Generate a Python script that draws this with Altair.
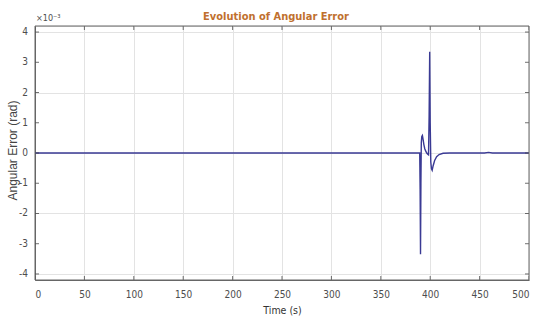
import altair as alt
import pandas as pd

# Angular error (in units of 1e-3 rad) vs time (s)
time_s = [0, 100, 200, 300, 388.8, 389.4, 389.8, 390.2, 390.6, 391.0, 391.5, 392.1,
          392.8, 393.6, 394.5, 395.5, 396.5, 397.5, 398.3, 398.9, 399.5, 400.0,
          400.6, 401.3, 402.0, 403.0, 404.5, 406.5, 409.0, 413.0, 420.0, 455.0,
          459.0, 463.0, 500.0]
error_e3 = [0, 0, 0, 0, 0, 0, -1.2, -3.35, -1.0, 0.35, 0.55, 0.58,
            0.45, 0.28, 0.14, 0.06, 0.0, -0.04, -0.06, 1.2, 3.35, 1.0,
            -0.3, -0.52, -0.57, -0.42, -0.25, -0.12, -0.05, -0.01, 0.0, 0.0,
            0.02, 0.0, 0.0]

x_ticks = [0, 50, 100, 150, 200, 250, 300, 350, 400, 450, 500]
y_ticks = [-4, -3, -2, -1, 0, 1, 2, 3, 4]
y_tick_labels = ["-4", "-3", "-2", "-1", "0", "1", "2", "3", "4"]
x_domain = [0, 500]
y_domain = [-4.2, 4.2]

df = pd.DataFrame({"t": time_s, "e": error_e3})
xt = pd.DataFrame({"t": x_ticks})
yt = pd.DataFrame({"e": y_ticks, "lab": y_tick_labels})

FONT = "Liberation Sans Narrow, DejaVu Sans Condensed, Liberation Sans, sans-serif"
LBL = "#4d4d4d"

xs = alt.Scale(domain=x_domain, nice=False, zero=False)
ys = alt.Scale(domain=y_domain, nice=False, zero=False)

x_axis = alt.Axis(values=x_ticks, format="d", grid=True, gridColor="#e3e3e3",
                  ticks=False, domainColor="#666666", labelPadding=9,
                  labelOverlap=False,
                  labelColor=LBL, labelFont=FONT, labelFontSize=10,
                  titleFont=FONT, titleFontSize=10.5, titleFontWeight="normal",
                  titleColor="#333333", titlePadding=6)
y_axis = alt.Axis(values=y_ticks, grid=True, gridColor="#e3e3e3",
                  ticks=False, labels=False, domainColor="#666666",
                  titleFont="Liberation Sans, Arial, sans-serif", titleFontSize=12,
                  titleFontWeight="normal", titleColor="#444444",
                  titleX=-23, titleY=124, titleAngle=-90,
                  titleAlign="center", titleBaseline="middle")

X = alt.X("t:Q", scale=xs, title="Time (s)", axis=x_axis)
Y = alt.Y("e:Q", scale=ys, title="Angular Error (rad)", axis=y_axis)

line = alt.Chart(df).mark_line(color="#3a3a94", strokeWidth=1.4, clip=True).encode(x=X, y=Y)

top_ticks = alt.Chart(xt).mark_tick(color="#333333", orient="vertical", size=8,
                                    thickness=1, clip=True).encode(x=X, y=alt.datum(4.2))
bot_ticks = alt.Chart(xt).mark_tick(color="#333333", orient="vertical", size=8,
                                    thickness=1, clip=True).encode(x=X, y=alt.datum(-4.2))
left_ticks = alt.Chart(yt).mark_tick(color="#333333", orient="horizontal", size=8,
                                     thickness=1, clip=True).encode(y=Y, x=alt.datum(0))
right_ticks = alt.Chart(yt).mark_tick(color="#333333", orient="horizontal", size=8,
                                      thickness=1, clip=True).encode(y=Y, x=alt.datum(500))

y_labels = alt.Chart(yt).mark_text(align="right", baseline="middle", font=FONT,
                                   fontSize=10, color=LBL, dx=-7).encode(
    y=Y, x=alt.datum(0), text="lab:N")

frame = alt.Chart(pd.DataFrame({"a": [0]})).mark_rect(
    fill=None, stroke="#666666", strokeWidth=1).encode(
    x=alt.value(0), x2=alt.value(494), y=alt.value(0), y2=alt.value(254))

exp_label = alt.Chart(pd.DataFrame({"s": ["×10⁻³"]})).mark_text(
    align="left", baseline="bottom", font=FONT, fontSize=9, color=LBL).encode(
    text="s:N", x=alt.value(1), y=alt.value(-3))

chart = alt.layer(line, top_ticks, bot_ticks, left_ticks, right_ticks, y_labels,
                  frame, exp_label).properties(
    width=494, height=254,
    title=alt.TitleParams("Evolution of Angular Error", color="#c0702e", font=FONT,
                          fontSize=11, fontWeight="bold", anchor="middle", offset=-8, dx=-6),
    autosize=alt.AutoSizeParams(type="none"),
    padding={"left": 35, "top": 26, "right": 5, "bottom": 42},
).configure_view(stroke=None).configure(background="white")

chart.save("out.html", embed_options={"renderer": "svg", "actions": False})
